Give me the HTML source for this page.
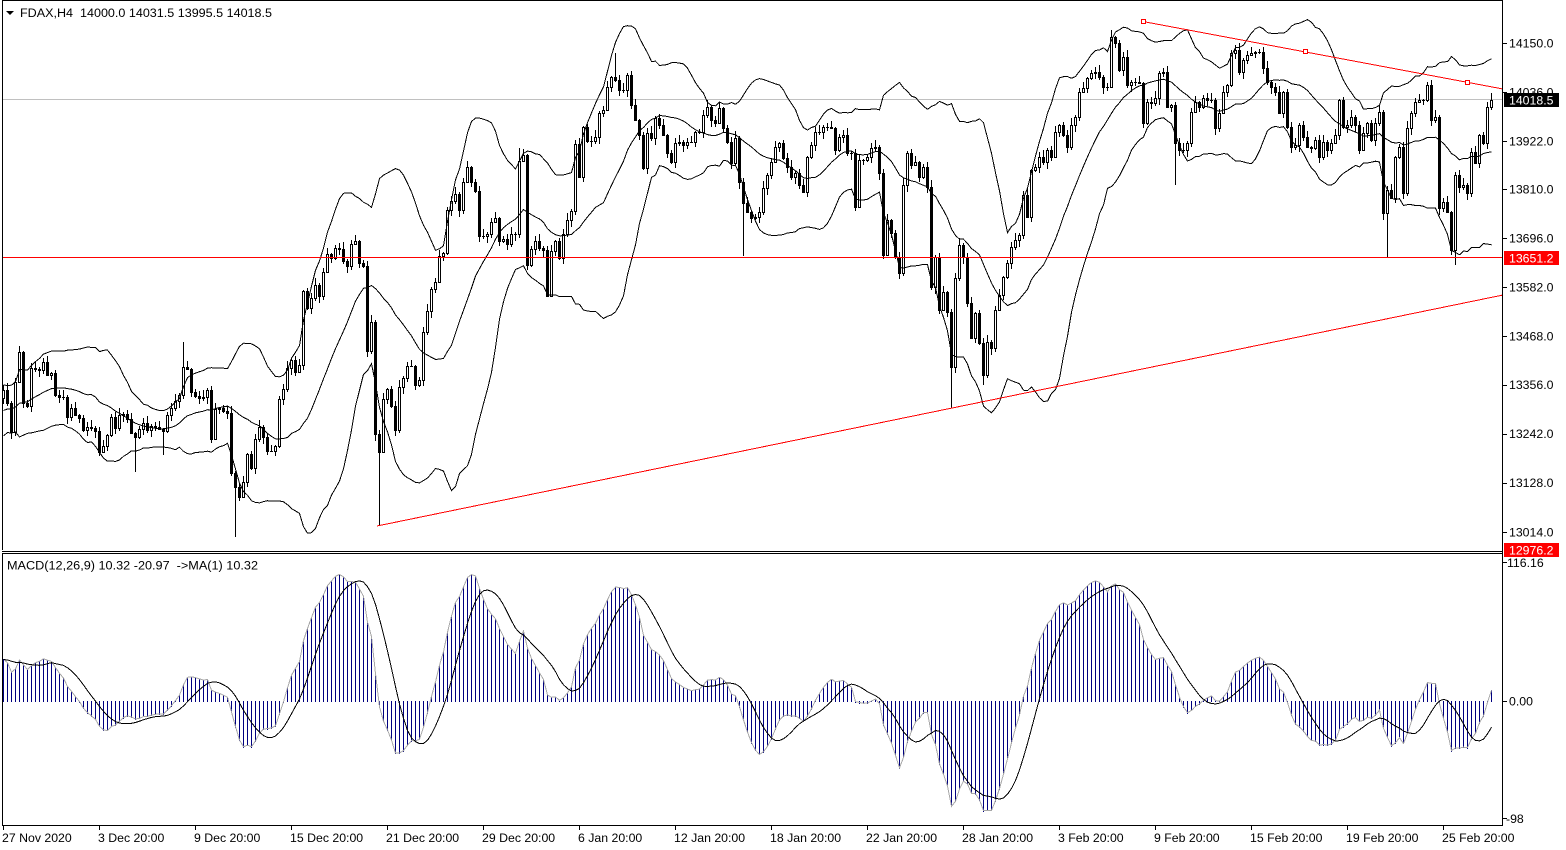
<!DOCTYPE html>
<html><head><meta charset="utf-8"><title>FDAX,H4</title>
<style>
html,body{margin:0;padding:0;background:#fff}
body{width:1566px;height:850px;overflow:hidden;position:relative}
svg{position:absolute;left:0;top:0;display:block}
text{font-family:"Liberation Sans",Tahoma,sans-serif;font-size:12.3px;fill:#000;white-space:pre}
</style></head><body>
<svg width="1566" height="850" viewBox="0 0 1566 850" xmlns="http://www.w3.org/2000/svg" shape-rendering="crispEdges" xml:space="preserve">
<defs>
<clipPath id="cm"><rect x="3" y="1" width="1499" height="548"/></clipPath>
<clipPath id="cd"><rect x="3" y="554" width="1499" height="271"/></clipPath>
</defs>
<rect width="1566" height="850" fill="#fff"/>
<g clip-path="url(#cm)">
 <line x1="3" y1="99.5" x2="1502" y2="99.5" stroke="#c0c0c0"/>
 <g id="main"></g>
 <line x1="3" y1="257.5" x2="1502" y2="257.5" stroke="#f00"/>
 <line x1="3" y1="549.5" x2="1502" y2="549.5" stroke="#f00"/>
 <line x1="377" y1="526" x2="1503" y2="295" stroke="#f00"/>
 <line x1="1143" y1="21.5" x2="1503" y2="89" stroke="#f00"/>
 <rect x="1141.5" y="19.5" width="4" height="4" fill="#fff" stroke="#f00"/>
 <rect x="1303.5" y="49.5" width="4" height="4" fill="#fff" stroke="#f00"/>
 <rect x="1465.5" y="80.5" width="4" height="4" fill="#fff" stroke="#f00"/>
</g>
<g clip-path="url(#cd)"><g id="macd"></g></g>

<line x1="2.5" y1="0" x2="2.5" y2="550" stroke="#000"/>
<line x1="2" y1="0.5" x2="1503" y2="0.5" stroke="#000"/>
<line x1="1502.5" y1="0" x2="1502.5" y2="826" stroke="#000"/>
<line x1="2" y1="551.5" x2="1503" y2="551.5" stroke="#000"/>
<line x1="2" y1="553.5" x2="1503" y2="553.5" stroke="#000"/>
<line x1="2.5" y1="553" x2="2.5" y2="826" stroke="#000"/>
<line x1="2" y1="825.5" x2="1503" y2="825.5" stroke="#000"/>

<polygon points="6,11 14,11 10,15" fill="#000" shape-rendering="auto"/>
<text x="20" y="17" textLength="252" lengthAdjust="spacingAndGlyphs">FDAX,H4  14000.0 14031.5 13995.5 14018.5</text>
<text x="7" y="569.5" textLength="251" lengthAdjust="spacingAndGlyphs">MACD(12,26,9) 10.32 -20.97  -&gt;MA(1) 10.32</text>

<g stroke="#000">
<line x1="1503" y1="43.5" x2="1507" y2="43.5"/>
<line x1="1503" y1="92.5" x2="1507" y2="92.5"/>
<line x1="1503" y1="141.5" x2="1507" y2="141.5"/>
<line x1="1503" y1="189.5" x2="1507" y2="189.5"/>
<line x1="1503" y1="238.5" x2="1507" y2="238.5"/>
<line x1="1503" y1="287.5" x2="1507" y2="287.5"/>
<line x1="1503" y1="336.5" x2="1507" y2="336.5"/>
<line x1="1503" y1="385.5" x2="1507" y2="385.5"/>
<line x1="1503" y1="434.5" x2="1507" y2="434.5"/>
<line x1="1503" y1="483.5" x2="1507" y2="483.5"/>
<line x1="1503" y1="532.5" x2="1507" y2="532.5"/>
<line x1="1503" y1="562.5" x2="1507" y2="562.5"/>
<line x1="1503" y1="701.5" x2="1507" y2="701.5"/>
<line x1="1503" y1="818.5" x2="1507" y2="818.5"/>
</g>
<text x="1509" y="47.5">14150.0</text>
<text x="1509" y="96.5">14036.0</text>
<text x="1509" y="145.5">13922.0</text>
<text x="1509" y="193.7">13810.0</text>
<text x="1509" y="242.7">13696.0</text>
<text x="1509" y="291.7">13582.0</text>
<text x="1509" y="340.7">13468.0</text>
<text x="1509" y="389">13356.0</text>
<text x="1509" y="438">13242.0</text>
<text x="1509" y="487">13128.0</text>
<text x="1509" y="536.3">13014.0</text>

<rect x="1504" y="93" width="55" height="14" fill="#000"/>
<text x="1509" y="104.5" style="fill:#fff">14018.5</text>
<rect x="1504" y="251" width="55" height="14" fill="#f00"/>
<text x="1509" y="262.5" style="fill:#fff">13651.2</text>
<rect x="1504" y="543" width="55" height="14" fill="#f00"/>
<text x="1509" y="554.5" style="fill:#fff">12976.2</text>

<text x="1507" y="567">116.16</text>
<text x="1509" y="705.5">0.00</text>
<text x="1506" y="823">-98</text>

<g stroke="#000">
<line x1="3.5" y1="826" x2="3.5" y2="830"/>
<line x1="99.5" y1="826" x2="99.5" y2="830"/>
<line x1="195.5" y1="826" x2="195.5" y2="830"/>
<line x1="291.5" y1="826" x2="291.5" y2="830"/>
<line x1="387.5" y1="826" x2="387.5" y2="830"/>
<line x1="483.5" y1="826" x2="483.5" y2="830"/>
<line x1="579.5" y1="826" x2="579.5" y2="830"/>
<line x1="675.5" y1="826" x2="675.5" y2="830"/>
<line x1="771.5" y1="826" x2="771.5" y2="830"/>
<line x1="867.5" y1="826" x2="867.5" y2="830"/>
<line x1="963.5" y1="826" x2="963.5" y2="830"/>
<line x1="1059.5" y1="826" x2="1059.5" y2="830"/>
<line x1="1155.5" y1="826" x2="1155.5" y2="830"/>
<line x1="1251.5" y1="826" x2="1251.5" y2="830"/>
<line x1="1347.5" y1="826" x2="1347.5" y2="830"/>
<line x1="1443.5" y1="826" x2="1443.5" y2="830"/>
</g>
<text x="2" y="842">27 Nov 2020</text>
<text x="98" y="842">3 Dec 20:00</text>
<text x="194" y="842">9 Dec 20:00</text>
<text x="290" y="842">15 Dec 20:00</text>
<text x="386" y="842">21 Dec 20:00</text>
<text x="482" y="842">29 Dec 20:00</text>
<text x="578" y="842">6 Jan 20:00</text>
<text x="674" y="842">12 Jan 20:00</text>
<text x="770" y="842">18 Jan 20:00</text>
<text x="866" y="842">22 Jan 20:00</text>
<text x="962" y="842">28 Jan 20:00</text>
<text x="1058" y="842">3 Feb 20:00</text>
<text x="1154" y="842">9 Feb 20:00</text>
<text x="1250" y="842">15 Feb 20:00</text>
<text x="1346" y="842">19 Feb 20:00</text>
<text x="1442" y="842">25 Feb 20:00</text>
</svg>
<script>
(function(){
var C=[
390,403,432,382,352,403,406,368,369,370,
362,375,373,395,397,397,417,408,415,418,
430,427,428,431,452,446,435,417,428,415,
414,419,433,437,429,423,430,426,427,429,
431,415,408,401,395,367,369,392,396,398,
397,390,439,409,408,411,413,473,487,497,
482,454,468,439,427,437,451,451,446,399,
389,368,360,372,365,291,308,298,285,296,
272,254,258,248,249,261,266,244,241,263,
266,351,322,434,452,399,389,406,430,387,
378,366,366,385,380,332,311,289,282,256,
253,210,201,194,210,182,167,182,191,236,
236,234,222,218,241,239,244,234,234,161,
155,265,249,241,248,250,296,251,241,258,
234,220,211,144,177,127,141,141,137,113,
110,87,77,80,90,90,75,105,120,135,
168,133,138,118,125,135,153,162,143,142,
145,142,142,132,132,115,107,120,123,108,
128,142,163,138,182,203,212,218,217,212,
188,175,162,147,143,158,167,177,173,185,
192,157,145,132,132,127,127,128,150,137,
135,153,153,207,160,160,157,148,147,173,
255,220,233,257,273,185,153,165,162,177,
167,187,287,257,310,292,312,367,278,245,
257,303,338,313,343,375,342,348,310,295,
277,263,247,240,235,195,217,170,167,157,
162,150,157,132,125,135,147,125,117,92,
88,78,73,72,77,87,87,37,43,70,
57,85,82,82,83,123,102,103,98,73,
72,107,105,143,150,150,143,112,102,107,
98,100,100,128,113,92,85,53,50,72,
60,55,53,52,52,68,82,87,92,113,
92,127,147,145,125,137,147,148,140,157,
142,150,143,135,100,127,125,117,125,150,
133,123,140,123,112,213,190,198,157,147,
193,128,113,102,100,100,85,120,117,208,
202,212,250,175,187,185,193,152,163,135,
143,107,99.6];
var k=0.43046;
function toP(y){return 14150-(y-43)/k;}
function toY(p){return 43+(14150-p)*k;}
var N=C.length,i,q;
var lowO={33:472,40:455,58:537,94:526,136:297,185:256,237:408,245:385,293:185,346:257,363:265};
var highO={45:342,129:148,153:53,277:30};
var blk='',wht='';
for(i=0;i<N;i++){
 var x=3+4*i;
 var o=(i==0)?C[0]+8:C[i-1], c=C[i];
 var top=Math.round(Math.min(o,c)), bot=Math.round(Math.max(o,c));
 var hi=(highO[i]!==undefined)?highO[i]:top-1-((i*37+11)%7);
 var lo=(lowO[i]!==undefined)?lowO[i]:bot+1+((i*53+5)%7);
 blk+='M'+x+' '+hi+'h1V'+lo+'h-1z';
 blk+='M'+(x-1)+' '+top+'h3V'+(bot+1)+'h-3z';
 if(c<o && bot-top>=2) wht+='M'+x+' '+(top+1)+'h1V'+bot+'h-1z';
}
var P=C.map(toP);
var H=[],b=P[0],NH=70;
for(var j=0;j<NH;j++)H.push(b-5*(NH-j)+4*Math.sin(j*1.3));
var A=H.concat(P),off=NH;
var pu='',pm='',pl='';
for(i=0;i<N;i++){
 var a=i+off,s=0;
 for(q=a-19;q<=a;q++)s+=A[q];
 var m=s/20,v=0;
 for(q=a-19;q<=a;q++)v+=(A[q]-m)*(A[q]-m);
 var sd=Math.sqrt(v/20),xx=3+4*i+0.5;
 pu+=xx+','+toY(m+2*sd).toFixed(1)+' ';
 pm+=xx+','+toY(m).toFixed(1)+' ';
 pl+=xx+','+toY(m-2*sd).toFixed(1)+' ';
}
document.getElementById('main').innerHTML=
 '<path d="'+blk+'" fill="#000"/><path d="'+wht+'" fill="#fff"/>'+
 '<polyline points="'+pu+'" fill="none" stroke="#000"/>'+
 '<polyline points="'+pm+'" fill="none" stroke="#000"/>'+
 '<polyline points="'+pl+'" fill="none" stroke="#000"/>';
var e12=A[0],e26=A[0],md=[];
for(q=0;q<A.length;q++){e12+=(A[q]-e12)*2/13;e26+=(A[q]-e26)*2/27;md.push(e12-e26);}
var hist='',ps='',pg='';
for(i=0;i<N;i++){
 var a2=i+off,vv=md[a2],y=701-vv*1.195,s2=0;
 for(q=a2-8;q<=a2;q++)s2+=md[q];
 var ys=701-(s2/9)*1.195,x2=3+4*i;
 var y1=Math.round(Math.min(y,701)),y2=Math.round(Math.max(y,701));
 hist+='M'+x2+' '+y1+'h1V'+(y2+1)+'h-1z';
 ps+=(x2+0.5)+','+y.toFixed(1)+' ';
 pg+=(x2+0.5)+','+ys.toFixed(1)+' ';
}
document.getElementById('macd').innerHTML=
 '<path d="'+hist+'" fill="#000080"/>'+
 '<polyline points="'+ps+'" fill="none" stroke="#a8a8a8"/>'+
 '<polyline points="'+pg+'" fill="none" stroke="#000"/>';
})();
</script>
</body></html>
